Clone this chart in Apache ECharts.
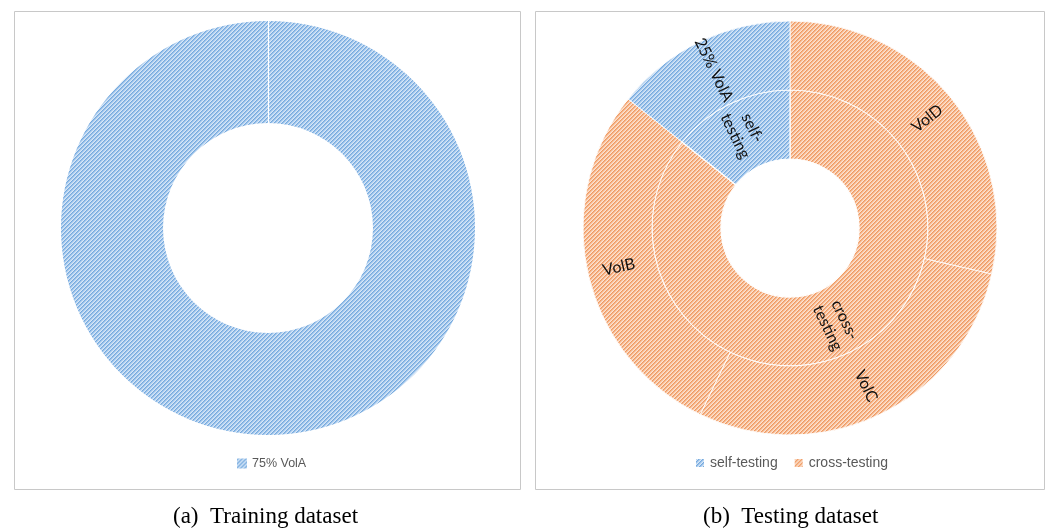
<!DOCTYPE html>
<html>
<head>
<meta charset="utf-8">
<title>Training and testing datasets</title>
<script src="https://cdn.jsdelivr.net/npm/echarts@6/dist/echarts.min.js"></script>
<style>
  html, body { margin: 0; padding: 0; background: #fff; }
  #chart { width: 1047px; height: 528px; }
</style>
</head>
<body>
<div id="chart"></div>
<script>
// ---- data ----
const trainingNames = ['75% VolA'];
const trainingValues = [1];

const testGroupNames = ['cross-testing', 'self-testing'];
const testGroupValues = [6, 1];

const testVolumeNames = ['VolD', 'VolC', 'VolB', '25% VolA'];
const testVolumeValues = [2, 2, 2, 1];
const testVolumeGroup = ['cross-testing', 'cross-testing', 'cross-testing', 'self-testing'];

const legendTraining = ['75% VolA'];
const legendTesting = ['self-testing', 'cross-testing'];

const captions = ['(a)  Training dataset', '(b)  Testing dataset'];

// ---- hatch fills ----
function hatch(dark, mid, light, pale) {
  const c = document.createElement('canvas');
  c.width = 4; c.height = 4;
  const g = c.getContext('2d');
  const shades = [dark, mid, pale, light];
  for (let y = 0; y < 4; y++) {
    for (let x = 0; x < 4; x++) {
      g.fillStyle = shades[(x + y) % 4];
      g.fillRect(x, y, 1, 1);
    }
  }
  return { image: c, repeat: 'repeat' };
}
const blueFill = hatch('#76aade', '#98c0e9', '#d6e6f7', '#bcd6f1');
const orangeFill = hatch('#f09a62', '#f4b287', '#fce2d0', '#f9cfb2');
const groupFill = { 'self-testing': blueFill, 'cross-testing': orangeFill };

// ---- layout ----
const leftCenter = [268, 228];
const rightCenter = [790, 228];
const rOuter = 207;
const rMid = 138;
const rInner = 69;
const rTrainInner = 105;

const labelFont = { fontFamily: 'Lato', fontSize: 16, color: '#111' };

const chart = echarts.init(document.getElementById('chart'), null, { renderer: 'canvas' });

chart.setOption({
  animation: false,
  backgroundColor: '#fff',
  legend: [
    {
      data: legendTraining,
      left: 232, top: 452,
      itemWidth: 10, itemHeight: 10, itemGap: 10,
      icon: 'rect',
      textStyle: { fontFamily: 'Liberation Sans', fontSize: 12.5, color: '#595959' }
    },
    {
      data: legendTesting,
      left: 689, top: 451,
      itemWidth: 10, itemHeight: 10, itemGap: 15,
      icon: 'rect',
      textStyle: { fontFamily: 'Liberation Sans', fontSize: 14, color: '#595959' }
    }
  ],
  graphic: [
    { type: 'rect', shape: { x: 14.5, y: 11.5, width: 506, height: 478 },
      style: { fill: 'none', stroke: '#c8c8c8', lineWidth: 1 }, z: 0 },
    { type: 'rect', shape: { x: 535.5, y: 11.5, width: 509, height: 478 },
      style: { fill: 'none', stroke: '#c8c8c8', lineWidth: 1 }, z: 0 },
    // seam where the full ring closes at twelve o'clock
    { type: 'line', shape: { x1: leftCenter[0] + 0.5, y1: leftCenter[1] - rOuter, x2: leftCenter[0] + 0.5, y2: leftCenter[1] - rTrainInner },
      style: { stroke: '#ffffff', lineWidth: 1.2 }, z: 10 },
    { type: 'text', left: 173, top: 505,
      style: { text: captions[0], fontFamily: 'Liberation Serif', fontSize: 23, fill: '#000' } },
    { type: 'text', left: 703, top: 505,
      style: { text: captions[1], fontFamily: 'Liberation Serif', fontSize: 23, fill: '#000' } }
  ],
  series: [
    {
      name: 'training',
      type: 'pie',
      center: leftCenter,
      radius: [rTrainInner, rOuter],
      startAngle: 90,
      clockwise: true,
      label: { show: false },
      labelLine: { show: false },
      emphasis: { disabled: true },
      itemStyle: { borderColor: '#fff', borderWidth: 0 },
      data: trainingNames.map((n, i) => ({ name: n, value: trainingValues[i], itemStyle: { color: blueFill } }))
    },
    {
      name: 'testing groups',
      type: 'pie',
      center: rightCenter,
      radius: [rInner, rMid],
      startAngle: 90,
      clockwise: true,
      emphasis: { disabled: true },
      itemStyle: { borderColor: '#fff', borderWidth: 1.2 },
      label: {
        show: true, position: 'inside', rotate: 'radial',
        lineHeight: 19, ...labelFont,
        formatter: p => p.name.replace('-', '-\n')
      },
      labelLine: { show: false },
      data: testGroupNames.map((n, i) => ({ name: n, value: testGroupValues[i], itemStyle: { color: groupFill[n] } }))
    },
    {
      name: 'testing volumes',
      type: 'pie',
      center: rightCenter,
      radius: [rMid, rOuter],
      startAngle: 90,
      clockwise: true,
      emphasis: { disabled: true },
      itemStyle: { borderColor: 'rgba(255,255,255,0.85)', borderWidth: 1 },
      label: {
        show: true, position: 'inside', rotate: 'radial', ...labelFont
      },
      labelLine: { show: false },
      data: testVolumeNames.map((n, i) => ({ name: n, value: testVolumeValues[i], itemStyle: { color: groupFill[testVolumeGroup[i]] } }))
    }
  ]
});
</script>
</body>
</html>
